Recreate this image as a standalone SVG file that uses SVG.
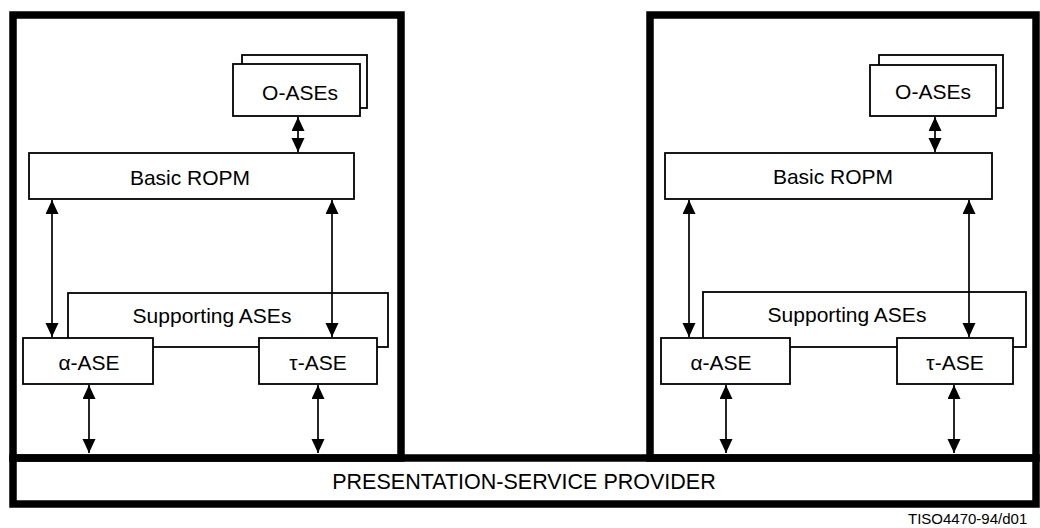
<svg xmlns="http://www.w3.org/2000/svg" width="1040" height="528" viewBox="0 0 1040 528">
  <style>
    .frame { fill: none; stroke: #000; stroke-width: 7.5; stroke-linejoin: miter; }
    .box { fill: #fff; stroke: #000; stroke-width: 1.8; }
    .lbl { font-family: "Liberation Sans", Arial, sans-serif; font-size: 21px; fill: #000; text-anchor: middle; }
    .wide { font-size: 21.5px; }
    .conn { stroke: #000; stroke-width: 1.7; fill: none; marker-start: url(#ah); marker-end: url(#ah); }
    .ref { font-family: "Liberation Sans", Arial, sans-serif; font-size: 15px; fill: #000; }
  </style>
  <defs>
    <marker id="ah" markerUnits="userSpaceOnUse" markerWidth="16" markerHeight="14" refX="14" refY="6.5" orient="auto-start-reverse">
      <path d="M0,0 L14,6.5 L0,13 z" fill="#000"/>
    </marker>
  </defs>
  <rect width="1040" height="528" fill="#fff"/>

  <!-- Heavy outlines: two application entities and the shared provider bar -->
  <g id="frames">
    <rect class="frame" x="13" y="15" width="388" height="443"/>
    <rect class="frame" x="650" y="15" width="386" height="443"/>
    <rect class="frame" x="13" y="458" width="1023" height="46"/>
  </g>

  <!-- Left entity -->
  <g id="left-o-ases">
    <rect class="box" x="242" y="55" width="125" height="53"/>
    <rect class="box" x="233" y="64" width="127" height="52"/>
    <text class="lbl" x="300" y="100">O-ASEs</text>
  </g>
  <g id="left-basic-ropm">
    <rect class="box" x="29" y="153" width="325" height="46"/>
    <text class="lbl" x="190" y="185">Basic ROPM</text>
  </g>
  <g id="left-supporting">
    <rect class="box" x="68" y="293" width="320" height="54"/>
    <text class="lbl" x="212" y="323">Supporting ASEs</text>
  </g>
  <g id="left-alpha">
    <rect class="box" x="23" y="338" width="130" height="46"/>
    <text class="lbl" x="89" y="370">α-ASE</text>
  </g>
  <g id="left-tau">
    <rect class="box" x="259" y="338" width="118" height="46"/>
    <text class="lbl" x="318" y="370">τ-ASE</text>
  </g>

  <!-- Right entity -->
  <g id="right-o-ases">
    <rect class="box" x="879" y="55" width="124" height="53"/>
    <rect class="box" x="870" y="65" width="126" height="51"/>
    <text class="lbl" x="933" y="99">O-ASEs</text>
  </g>
  <g id="right-basic-ropm">
    <rect class="box" x="665" y="153" width="327" height="46"/>
    <text class="lbl" x="833" y="184">Basic ROPM</text>
  </g>
  <g id="right-supporting">
    <rect class="box" x="703" y="292" width="323" height="55"/>
    <text class="lbl" x="847" y="322">Supporting ASEs</text>
  </g>
  <g id="right-alpha">
    <rect class="box" x="661" y="338" width="129" height="46"/>
    <text class="lbl" x="721" y="370">α-ASE</text>
  </g>
  <g id="right-tau">
    <rect class="box" x="897" y="338" width="116" height="46"/>
    <text class="lbl" x="955" y="370">τ-ASE</text>
  </g>

  <!-- Provider -->
  <g id="provider">
    <text class="lbl wide" x="524" y="489">PRESENTATION-SERVICE PROVIDER</text>
  </g>

  <!-- Two-way connectors -->
  <g id="connectors">
    <line class="conn" x1="298" y1="117" x2="298" y2="152"/>
    <line class="conn" x1="52" y1="200" x2="52" y2="337"/>
    <line class="conn" x1="332" y1="200" x2="332" y2="337"/>
    <line class="conn" x1="89" y1="385" x2="89" y2="453"/>
    <line class="conn" x1="318" y1="385" x2="318" y2="453"/>

    <line class="conn" x1="935" y1="117" x2="935" y2="152"/>
    <line class="conn" x1="689" y1="200" x2="689" y2="337"/>
    <line class="conn" x1="969" y1="200" x2="969" y2="337"/>
    <line class="conn" x1="726" y1="385" x2="726" y2="453"/>
    <line class="conn" x1="954" y1="385" x2="954" y2="453"/>
  </g>

  <text class="ref" x="908" y="524">TISO4470-94/d01</text>
</svg>
